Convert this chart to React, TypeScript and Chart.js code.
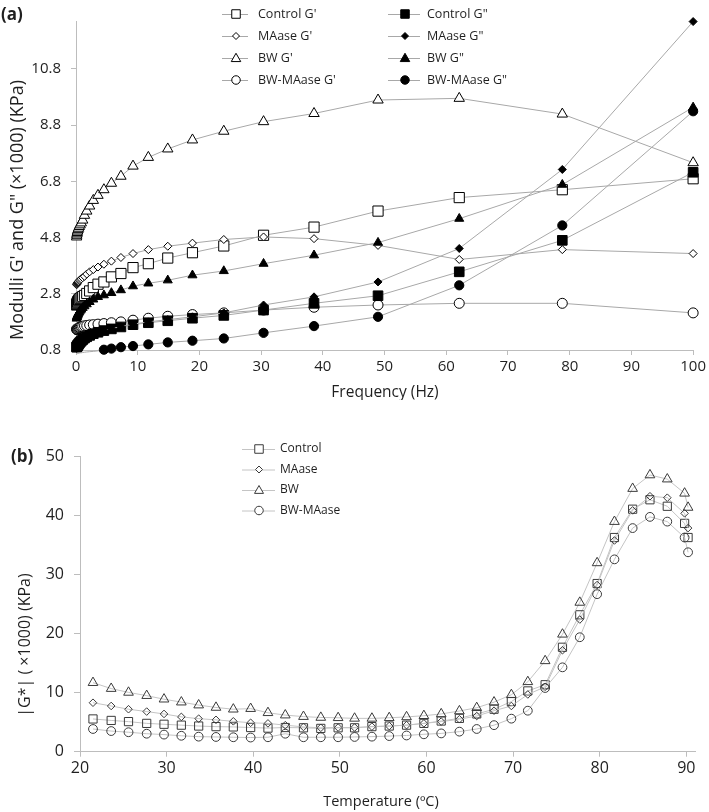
import React, { useEffect, useRef } from 'react';
import { Chart, registerables } from 'chart.js';
Chart.register(...registerables);

const FONT = '"Open Sans", sans-serif';
const TXT = '#1f1f1f';
const AXIS = '#bdbdbd';

// ---------- (a) frequency sweep ----------
const freqHz = [0.1, 0.127, 0.161, 0.204, 0.259, 0.329, 0.418, 0.53, 0.672, 0.853, 1.083, 1.374, 1.743, 2.212, 2.807, 3.562, 4.52, 5.736, 7.279, 9.237, 11.72, 14.87, 18.87, 23.95, 30.39, 38.57, 48.94, 62.1, 78.8, 100];
const freqTicks = [0, 10, 20, 30, 40, 50, 60, 70, 80, 90, 100];
const modTicks = [0.8, 2.8, 4.8, 6.8, 8.8, 10.8];

const controlGp = [2.4, 2.42, 2.45, 2.48, 2.51, 2.54, 2.57, 2.6, 2.63, 2.66, 2.7, 2.74, 2.81, 2.9, 3.02, 3.14, 3.22, 3.4, 3.52, 3.73, 3.87, 4.07, 4.26, 4.5, 4.88, 5.17, 5.74, 6.22, 6.5, 6.89];
const maaseGp = [3.12, 3.14, 3.16, 3.18, 3.2, 3.22, 3.24, 3.27, 3.3, 3.33, 3.37, 3.42, 3.5, 3.58, 3.66, 3.75, 3.85, 3.96, 4.09, 4.23, 4.37, 4.49, 4.6, 4.73, 4.82, 4.76, 4.52, 4.02, 4.37, 4.23];
const bwGp = [4.82, 4.88, 4.93, 4.98, 5.03, 5.08, 5.13, 5.19, 5.25, 5.32, 5.42, 5.59, 5.74, 5.92, 6.12, 6.3, 6.5, 6.73, 6.98, 7.34, 7.65, 7.95, 8.27, 8.58, 8.92, 9.21, 9.69, 9.75, 9.19, 7.46];
const bwMaaseGp = [1.55, 1.53, 1.52, 1.53, 1.54, 1.56, 1.58, 1.6, 1.62, 1.63, 1.64, 1.66, 1.67, 1.69, 1.7, 1.72, 1.74, 1.77, 1.8, 1.86, 1.93, 2.0, 2.06, 2.12, 2.22, 2.32, 2.4, 2.46, 2.46, 2.12];
const controlGpp = [0.9, 0.91, 0.92, 0.94, 0.96, 0.98, 1.01, 1.04, 1.08, 1.12, 1.17, 1.22, 1.27, 1.32, 1.38, 1.43, 1.49, 1.55, 1.62, 1.7, 1.77, 1.84, 1.93, 2.03, 2.22, 2.46, 2.73, 3.58, 4.7, 7.12];
const maaseGpp = [0.86, 0.88, 0.9, 0.92, 0.94, 0.97, 1.0, 1.03, 1.07, 1.11, 1.16, 1.21, 1.26, 1.31, 1.37, 1.43, 1.49, 1.56, 1.63, 1.72, 1.8, 1.88, 1.98, 2.12, 2.4, 2.69, 3.22, 4.41, 7.22, 12.48];
const bwGpp = [1.92, 1.96, 1.98, 2.01, 2.04, 2.07, 2.11, 2.15, 2.2, 2.24, 2.3, 2.36, 2.43, 2.51, 2.6, 2.69, 2.75, 2.83, 2.93, 3.07, 3.17, 3.28, 3.46, 3.61, 3.87, 4.17, 4.62, 5.47, 6.68, 9.43];
const bwMaaseGpp = [0.66, 0.66, 0.67, 0.67, 0.68, 0.68, 0.69, 0.69, 0.7, 0.7, 0.71, 0.72, 0.73, 0.74, 0.75, 0.77, 0.81, 0.85, 0.9, 0.94, 1.0, 1.07, 1.13, 1.21, 1.41, 1.65, 1.98, 3.1, 5.23, 9.29];

// ---------- (b) temperature sweep ----------
const tempC = [21.5, 23.6, 25.6, 27.7, 29.7, 31.7, 33.7, 35.7, 37.7, 39.7, 41.7, 43.7, 45.8, 47.8, 49.8, 51.7, 53.7, 55.7, 57.7, 59.7, 61.7, 63.8, 65.8, 67.8, 69.8, 71.7, 73.7, 75.7, 77.7, 79.7, 81.7, 83.8, 85.8, 87.8, 89.8, 90.2];
const tempTicks = [20, 30, 40, 50, 60, 70, 80, 90];
const gStarTicks = [0, 10, 20, 30, 40, 50];

const controlG = [5.55, 5.3, 5.1, 4.8, 4.65, 4.5, 4.35, 4.25, 4.2, 4.1, 4.0, 4.1, 4.05, 3.95, 4.05, 4.05, 4.25, 4.35, 4.5, 4.8, 5.2, 5.65, 6.4, 7.2, 8.5, 10.3, 11.35, 17.7, 23.2, 28.5, 36.3, 41.1, 42.7, 41.6, 38.7, 36.3];
const maaseG = [8.3, 7.75, 7.2, 6.8, 6.4, 5.9, 5.6, 5.4, 5.15, 4.9, 4.8, 4.5, 4.2, 4.05, 4.1, 4.1, 4.25, 4.35, 4.5, 4.8, 5.1, 5.5, 6.05, 6.95, 7.75, 9.7, 11.0, 17.2, 22.4, 28.25, 35.8, 40.9, 43.3, 43.05, 40.4, 37.9];
const bwG = [11.7, 10.7, 10.05, 9.5, 8.9, 8.4, 7.9, 7.5, 7.2, 7.3, 6.6, 6.2, 5.95, 5.8, 5.75, 5.65, 5.65, 5.75, 5.9, 6.1, 6.4, 6.9, 7.45, 8.4, 9.65, 11.85, 15.4, 19.9, 25.3, 32.0, 39.0, 44.6, 46.9, 46.2, 43.8, 41.4];
const bwMaaseG = [3.85, 3.5, 3.3, 3.05, 2.9, 2.7, 2.55, 2.5, 2.45, 2.4, 2.45, 3.05, 2.45, 2.45, 2.45, 2.5, 2.55, 2.65, 2.75, 2.95, 3.1, 3.4, 3.85, 4.5, 5.6, 6.95, 10.8, 14.3, 19.4, 26.7, 32.6, 37.9, 39.8, 39.0, 36.3, 33.8];

function drawMarker(ctx: CanvasRenderingContext2D, style: string, x: number, y: number, s: number, filled: boolean, color: string) {
  ctx.save();
  ctx.beginPath();
  const h = s / 2;
  if (style === 'rect') ctx.rect(x - h, y - h, s, s);
  else if (style === 'rectRot') {
    ctx.moveTo(x, y - h); ctx.lineTo(x + h, y); ctx.lineTo(x, y + h); ctx.lineTo(x - h, y); ctx.closePath();
  } else if (style === 'triangle') {
    ctx.moveTo(x, y - h); ctx.lineTo(x + h, y + h * 0.75); ctx.lineTo(x - h, y + h * 0.75); ctx.closePath();
  } else ctx.arc(x, y, h, 0, Math.PI * 2);
  ctx.fillStyle = filled ? color : '#fff';
  ctx.fill();
  ctx.lineWidth = 1;
  ctx.strokeStyle = color;
  ctx.stroke();
  ctx.restore();
}

type LegendItem = { label: string; style: string; filled: boolean; size: number };

function drawLegend(ctx: CanvasRenderingContext2D, items: LegendItem[], x0: number, x1: number, xm: number, xt: number, ys: number[], fontSize: number, lineColor: string, mkColor: string) {
  items.forEach((it, i) => {
    const y = ys[i];
    ctx.save();
    ctx.strokeStyle = lineColor;
    ctx.lineWidth = 1;
    ctx.beginPath();
    ctx.moveTo(x0, y + 0.5);
    ctx.lineTo(x1, y + 0.5);
    ctx.stroke();
    ctx.restore();
    drawMarker(ctx, it.style, xm, y, it.size, it.filled, mkColor);
    ctx.save();
    ctx.fillStyle = TXT;
    ctx.font = `${fontSize}px ${FONT}`;
    ctx.textBaseline = 'middle';
    ctx.textAlign = 'left';
    ctx.fillText(it.label, xt, y);
    ctx.restore();
  });
}

function text(ctx: CanvasRenderingContext2D, s: string, x: number, y: number, font: string, rot = 0, align: CanvasTextAlign = 'center') {
  ctx.save();
  ctx.translate(x, y);
  if (rot) ctx.rotate(rot);
  ctx.font = font;
  ctx.fillStyle = TXT;
  ctx.textAlign = align;
  ctx.textBaseline = 'middle';
  ctx.fillText(s, 0, 0);
  ctx.restore();
}

export default function App() {
  const refA = useRef<HTMLCanvasElement>(null);
  const refB = useRef<HTMLCanvasElement>(null);

  useEffect(() => {
    document.body.style.margin = '0';
    Chart.defaults.font.family = FONT;

    const mkA = (label: string, vals: number[], style: any, filled: boolean, r: number, extra: any = {}) => ({
      label,
      data: freqHz.map((f, i) => ({ x: f, y: vals[i] })),
      showLine: true,
      borderColor: '#a8a8a8',
      borderWidth: 1,
      pointStyle: style,
      pointRadius: r,
      pointHoverRadius: r,
      pointBackgroundColor: filled ? '#000' : '#fff',
      pointBorderColor: '#000',
      pointBorderWidth: 1,
      clip: 10,
      ...extra,
    });

    const bwMaaseGppDs = mkA('BW-MAase G"', bwMaaseGpp, 'circle', true, 4.6, {
      pointRadius: (c: any) => (c.raw && c.raw.y < 0.8 ? 0 : 4.6),
      clip: { left: 10, right: 10, top: 10, bottom: 5 },
    });

    const dsA = [
      bwMaaseGppDs,
      mkA('BW G"', bwGpp, 'triangle', true, 5.2),
      mkA('MAase G"', maaseGpp, 'rectRot', true, 4),
      mkA('Control G"', controlGpp, 'rect', true, 6.8),
      mkA("BW-MAase G'", bwMaaseGp, 'circle', false, 5),
      mkA("BW G'", bwGp, 'triangle', false, 6),
      mkA("MAase G'", maaseGp, 'rectRot', false, 4),
      mkA("Control G'", controlGp, 'rect', false, 7.2),
    ];

    const overlayA = {
      id: 'overlayA',
      afterDraw(chart: any) {
        const ctx = chart.ctx as CanvasRenderingContext2D;
        text(ctx, '(a)', 1, 15, `bold 17px ${FONT}`, 0, 'left');
        text(ctx, 'Modulli G\' and G" (×1000) (KPa)', 18, 210, `18px ${FONT}`, -Math.PI / 2);
        text(ctx, 'Frequency (Hz)', 385, 393, `15.5px ${FONT}`);
        const ys = [14, 36, 58, 80];
        drawLegend(ctx, [
          { label: "Control G'", style: 'rect', filled: false, size: 8.5 },
          { label: "MAase G'", style: 'rectRot', filled: false, size: 7 },
          { label: "BW G'", style: 'triangle', filled: false, size: 9.5 },
          { label: "BW-MAase G'", style: 'circle', filled: false, size: 8.5 },
        ], 222, 248, 236, 258, ys, 12.5, '#a8a8a8', '#000');
        drawLegend(ctx, [
          { label: 'Control G"', style: 'rect', filled: true, size: 8.5 },
          { label: 'MAase G"', style: 'rectRot', filled: true, size: 7 },
          { label: 'BW G"', style: 'triangle', filled: true, size: 9.5 },
          { label: 'BW-MAase G"', style: 'circle', filled: true, size: 8.5 },
        ], 388, 420, 405, 427, ys, 12.5, '#a8a8a8', '#000');
      },
    };

    const chartA = new Chart(refA.current!, {
      type: 'scatter',
      data: { datasets: dsA as any },
      options: {
        responsive: false,
        animation: false,
        events: [],
        layout: { padding: { left: 0, top: 21, right: 15, bottom: 0 } },
        plugins: { legend: { display: false }, tooltip: { enabled: false } },
        scales: {
          x: {
            type: 'linear',
            min: 0,
            max: 100,
            afterBuildTicks: (s: any) => { s.ticks = freqTicks.map((v) => ({ value: v })); },
            afterFit: (s: any) => { s.height = 50; },
            ticks: { font: { size: 15 }, color: TXT, padding: 3, maxRotation: 0, autoSkip: false, callback: (v: any) => String(v) },
            grid: { drawOnChartArea: false, drawTicks: true, tickLength: 5, color: AXIS },
            border: { display: true, color: AXIS, width: 1 },
          },
          y: {
            type: 'linear',
            min: 0.8,
            max: 12.5,
            afterBuildTicks: (s: any) => { s.ticks = modTicks.map((v) => ({ value: v })); },
            afterFit: (s: any) => { s.width = 76; },
            ticks: { font: { size: 15 }, color: TXT, padding: 10, autoSkip: false, callback: (v: any) => Number(v).toFixed(1) },
            grid: { drawOnChartArea: false, drawTicks: true, tickLength: 5, color: AXIS },
            border: { display: true, color: AXIS, width: 1 },
          },
        },
      },
      plugins: [overlayA],
    });

    const mkB = (label: string, vals: number[], style: any, r: number) => ({
      label,
      data: tempC.map((t, i) => ({ x: t, y: vals[i] })),
      showLine: true,
      borderColor: '#c4c4c4',
      borderWidth: 1,
      pointStyle: style,
      pointRadius: r,
      pointHoverRadius: r,
      pointBackgroundColor: 'rgba(255,255,255,0)',
      pointBorderColor: '#3a3a3a',
      pointBorderWidth: 1,
      clip: 10,
    });

    const dsB = [
      mkB('BW-MAase', bwMaaseG, 'circle', 4.4),
      mkB('BW', bwG, 'triangle', 5.6),
      mkB('MAase', maaseG, 'rectRot', 3.8),
      mkB('Control', controlG, 'rect', 5.8),
    ];

    const overlayB = {
      id: 'overlayB',
      afterDraw(chart: any) {
        const ctx = chart.ctx as CanvasRenderingContext2D;
        text(ctx, '(b)', 11, 57, `bold 17px ${FONT}`, 0, 'left');
        text(ctx, '|G*| ( ×1000) (KPa)', 25, 245, `16px ${FONT}`, -Math.PI / 2);
        text(ctx, 'Temperature (ºC)', 381, 402, `14.5px ${FONT}`);
        drawLegend(ctx, [
          { label: 'Control', style: 'rect', filled: false, size: 8.5 },
          { label: 'MAase', style: 'rectRot', filled: false, size: 7 },
          { label: 'BW', style: 'triangle', filled: false, size: 9 },
          { label: 'BW-MAase', style: 'circle', filled: false, size: 8.5 },
        ], 242, 275, 259, 280, [49, 69.5, 90, 110.5], 12, '#c4c4c4', '#3a3a3a');
      },
    };

    const chartB = new Chart(refB.current!, {
      type: 'scatter',
      data: { datasets: dsB as any },
      options: {
        responsive: false,
        animation: false,
        events: [],
        layout: { padding: { left: 0, top: 56.7, right: 14, bottom: 0 } },
        plugins: { legend: { display: false }, tooltip: { enabled: false } },
        scales: {
          x: {
            type: 'linear',
            min: 20,
            max: 91,
            afterBuildTicks: (s: any) => { s.ticks = tempTicks.map((v) => ({ value: v })); },
            afterFit: (s: any) => { s.height = 60.3; },
            ticks: { font: { size: 16 }, color: TXT, padding: 2, maxRotation: 0, autoSkip: false, callback: (v: any) => String(v) },
            grid: { drawOnChartArea: false, drawTicks: true, tickLength: 5, color: AXIS },
            border: { display: true, color: AXIS, width: 1 },
          },
          y: {
            type: 'linear',
            min: 0,
            max: 50,
            afterBuildTicks: (s: any) => { s.ticks = gStarTicks.map((v) => ({ value: v })); },
            afterFit: (s: any) => { s.width = 80; },
            ticks: { font: { size: 16 }, color: TXT, padding: 10, autoSkip: false, callback: (v: any) => String(v) },
            grid: { drawOnChartArea: false, drawTicks: true, tickLength: 6, color: AXIS },
            border: { display: true, color: AXIS, width: 1 },
          },
        },
      },
      plugins: [overlayB],
    });

    return () => {
      chartA.destroy();
      chartB.destroy();
    };
  }, []);

  return (
    <div style={{ position: 'relative', width: 709, height: 812, background: '#fff' }}>
      <canvas ref={refA} width={709} height={400} style={{ position: 'absolute', left: 0, top: 0 }} />
      <canvas ref={refB} width={709} height={412} style={{ position: 'absolute', left: 0, top: 400 }} />
    </div>
  );
}
